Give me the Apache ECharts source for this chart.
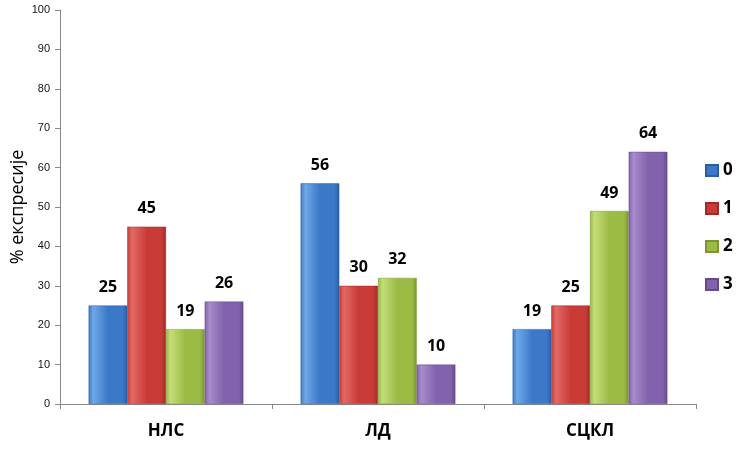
<!DOCTYPE html>
<html><head><meta charset="utf-8">
<script src="https://cdn.jsdelivr.net/npm/echarts@6/dist/echarts.min.js"></script>
<style>html,body{margin:0;padding:0;background:#fff}#c{width:750px;height:450px}</style>
</head><body><div id="c"></div>
<script>
const categories = ['НЛС', 'ЛД', 'СЦКЛ'];
const seriesNames = ['0', '1', '2', '3'];
const values0 = [25, 56, 19];
const values1 = [45, 30, 25];
const values2 = [19, 32, 49];
const values3 = [26, 10, 64];
const yTicks = [0, 10, 20, 30, 40, 50, 60, 70, 80, 90, 100];
const yTitle = '% експресије';

const allValues = [values0, values1, values2, values3];
const colors = [
  ['#6fa8e6', '#3b78c8', '#2a5d9f'],
  ['#e26a66', '#c83b37', '#9c2a27'],
  ['#c3dd78', '#9bbb45', '#7a9532'],
  ['#a88ccb', '#8262ad', '#644a8a']
];
function grad(c){
  return new echarts.graphic.LinearGradient(0,0,1,0,[
    {offset:0,color:c[1]},{offset:0.12,color:c[0]},{offset:0.5,color:c[1]},{offset:0.88,color:c[1]},{offset:1,color:c[2]}
  ]);
}
const chart = echarts.init(document.getElementById('c'), null, {renderer:'canvas'});
chart.setOption({
  animation:false,
  grid:{left:60, right:54, top:10, bottom:46, outerBoundsMode:'none', containLabel:false},
  legend:{
    orient:'vertical', left:700, top:157, itemGap:21, itemWidth:12, itemHeight:11,
    icon:'rect',
    textStyle:{fontSize:17, fontWeight:'bold', color:'#000', fontFamily:'"Open Sans", Arial, sans-serif'},
    data: seriesNames.map((n,i)=>({name:n, itemStyle:{color:colors[i][1]}}))
  },
  xAxis:{
    type:'category', data:categories,
    axisLine:{lineStyle:{color:'#888'}},
    axisTick:{show:true, length:5, lineStyle:{color:'#888'}},
    axisLabel:{fontSize:17, fontWeight:'bold', color:'#000', margin:19, fontFamily:'"Open Sans", Arial, sans-serif'}
  },
  yAxis:{
    type:'value', min:yTicks[0], max:yTicks[yTicks.length-1], interval:10,
    name:yTitle, nameLocation:'middle', nameGap:33, nameRotate:90, nameMoveOverlap:false,
    nameTextStyle:{fontSize:18, color:'#000', fontFamily:'"Open Sans", Arial, sans-serif'},
    axisLine:{show:true, lineStyle:{color:'#888'}},
    axisTick:{show:true, length:5, lineStyle:{color:'#888'}},
    splitLine:{show:false},
    axisLabel:{fontSize:11, color:'#111', margin:10, fontFamily:'Arial, sans-serif'}
  },
  series: allValues.map((v,i)=>({
    name:seriesNames[i], type:'bar', data:v,
    barGap:'0%', barCategoryGap:'27%',
    itemStyle:{color:grad(colors[i]), borderColor:colors[i][2], borderWidth:0.5},
    label:{show:true, position:'top', distance:10, fontSize:16, fontWeight:'bold', color:'#000', fontFamily:'"Open Sans", Arial, sans-serif'}
  }))
});
</script></body></html>
